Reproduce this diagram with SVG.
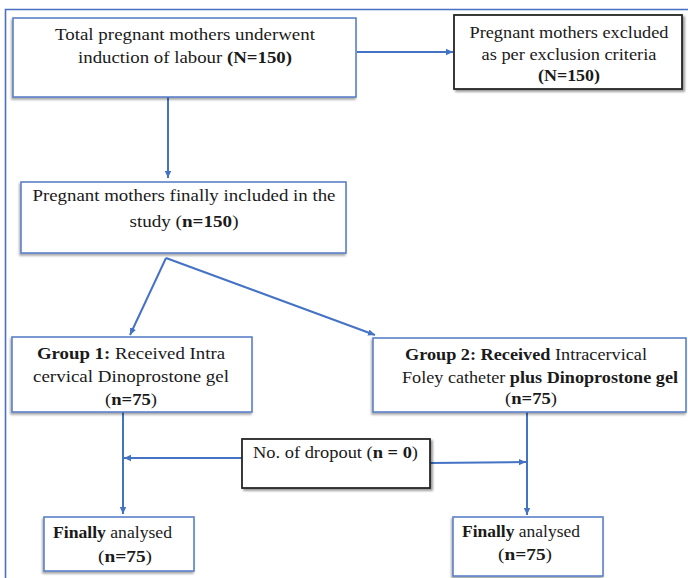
<svg xmlns="http://www.w3.org/2000/svg" width="688" height="578" viewBox="0 0 688 578">
<style>
  text { font-family: "Liberation Serif", "Times New Roman", serif; font-size: 17.5px; fill: #1a1a1a; }
  .b { font-weight: bold; }
  .blue { fill: #ffffff; stroke: #5b80c8; stroke-width: 1.6; filter: url(#sh); }
  .dark { fill: #ffffff; stroke: #262626; stroke-width: 1.8; filter: url(#sh2); }
  .conn { stroke: #4472c4; stroke-width: 2; fill: none; }
  .frame { stroke: #4a6fc0; stroke-width: 1.6; fill: none; }
</style>
<defs>
  <marker id="ah" markerWidth="8" markerHeight="8" refX="7" refY="4" orient="auto" markerUnits="userSpaceOnUse">
    <path d="M0,0.8 L7,4 L0,7.2 Z" fill="#4472c4"/>
  </marker>
  <filter id="sh" x="-10%" y="-10%" width="120%" height="130%">
    <feDropShadow dx="-1" dy="2" stdDeviation="1.3" flood-color="#000" flood-opacity="0.35"/>
  </filter>
  <filter id="sh2" x="-10%" y="-10%" width="120%" height="130%">
    <feDropShadow dx="2" dy="2" stdDeviation="1.3" flood-color="#000" flood-opacity="0.4"/>
  </filter>
</defs>
<rect width="688" height="578" fill="#ffffff"/>
<g id="frame">
  <path class="frame" d="M5.5,578 L5.5,9.5 L688,9.5"/>
</g>
<g id="connectors">
  <line class="conn" x1="357" y1="52" x2="453" y2="52" marker-end="url(#ah)"/>
  <line class="conn" x1="168" y1="97" x2="168" y2="178" marker-end="url(#ah)"/>
  <line class="conn" x1="166" y1="258" x2="130" y2="335" marker-end="url(#ah)"/>
  <line class="conn" x1="166" y1="258" x2="375" y2="335" marker-end="url(#ah)"/>
  <line class="conn" x1="123" y1="412" x2="123" y2="514" marker-end="url(#ah)"/>
  <line class="conn" x1="527" y1="412" x2="527" y2="515" marker-end="url(#ah)"/>
  <line class="conn" x1="242" y1="458" x2="124" y2="458" marker-end="url(#ah)"/>
  <line class="conn" x1="430" y1="463" x2="526" y2="462" marker-end="url(#ah)"/>
</g>
<g id="total">
  <rect class="blue" x="13" y="18" width="343" height="79"/>
  <text x="185" y="40" text-anchor="middle" textLength="260" lengthAdjust="spacingAndGlyphs">Total pregnant mothers underwent</text>
  <text x="185" y="63" text-anchor="middle" textLength="214" lengthAdjust="spacingAndGlyphs">induction of labour <tspan class="b">(N=150)</tspan></text>
</g>
<g id="excluded">
  <rect class="dark" x="454" y="15" width="228" height="74"/>
  <text x="569" y="38" text-anchor="middle" textLength="199" lengthAdjust="spacingAndGlyphs">Pregnant mothers excluded</text>
  <text x="569" y="60" text-anchor="middle" textLength="175" lengthAdjust="spacingAndGlyphs">as per exclusion criteria</text>
  <text x="569" y="81" text-anchor="middle" class="b" textLength="62" lengthAdjust="spacingAndGlyphs">(N=150)</text>
</g>
<g id="included">
  <rect class="blue" x="21" y="182" width="325" height="71"/>
  <text x="184" y="201" text-anchor="middle" textLength="303" lengthAdjust="spacingAndGlyphs">Pregnant mothers finally included in the</text>
  <text x="184" y="227" text-anchor="middle" textLength="109" lengthAdjust="spacingAndGlyphs">study (<tspan class="b">n=150</tspan>)</text>
</g>
<g id="group1">
  <rect class="blue" x="12" y="337" width="240" height="75"/>
  <text x="131" y="359" text-anchor="middle" textLength="188" lengthAdjust="spacingAndGlyphs"><tspan class="b">Group 1:</tspan> Received Intra</text>
  <text x="131" y="382" text-anchor="middle" textLength="196" lengthAdjust="spacingAndGlyphs">cervical Dinoprostone gel</text>
  <text x="131" y="405" text-anchor="middle" textLength="52" lengthAdjust="spacingAndGlyphs">(<tspan class="b">n=75</tspan>)</text>
</g>
<g id="group2">
  <rect class="blue" x="373" y="338" width="313" height="74"/>
  <text x="405" y="360" textLength="242" lengthAdjust="spacingAndGlyphs"><tspan class="b">Group 2: Received</tspan> Intracervical</text>
  <text x="402" y="383" textLength="276" lengthAdjust="spacingAndGlyphs">Foley catheter  <tspan class="b">plus Dinoprostone gel</tspan></text>
  <text x="531" y="404" text-anchor="middle" textLength="52" lengthAdjust="spacingAndGlyphs">(<tspan class="b">n=75</tspan>)</text>
</g>
<g id="dropout">
  <rect class="dark" x="242" y="439" width="188" height="49"/>
  <text x="253" y="458" textLength="165" lengthAdjust="spacingAndGlyphs">No. of dropout (<tspan class="b">n = 0</tspan>)</text>
</g>
<g id="final1">
  <rect class="blue" x="44" y="517" width="150" height="54"/>
  <text x="53" y="538" textLength="119" lengthAdjust="spacingAndGlyphs"><tspan class="b">Finally</tspan> analysed</text>
  <text x="125" y="562" text-anchor="middle" textLength="54" lengthAdjust="spacingAndGlyphs">(<tspan class="b">n=75</tspan>)</text>
</g>
<g id="final2">
  <rect class="blue" x="453" y="517" width="150" height="59"/>
  <text x="462" y="537" textLength="118" lengthAdjust="spacingAndGlyphs"><tspan class="b">Finally</tspan> analysed</text>
  <text x="525" y="560" text-anchor="middle" textLength="54" lengthAdjust="spacingAndGlyphs">(<tspan class="b">n=75</tspan>)</text>
</g>
</svg>
